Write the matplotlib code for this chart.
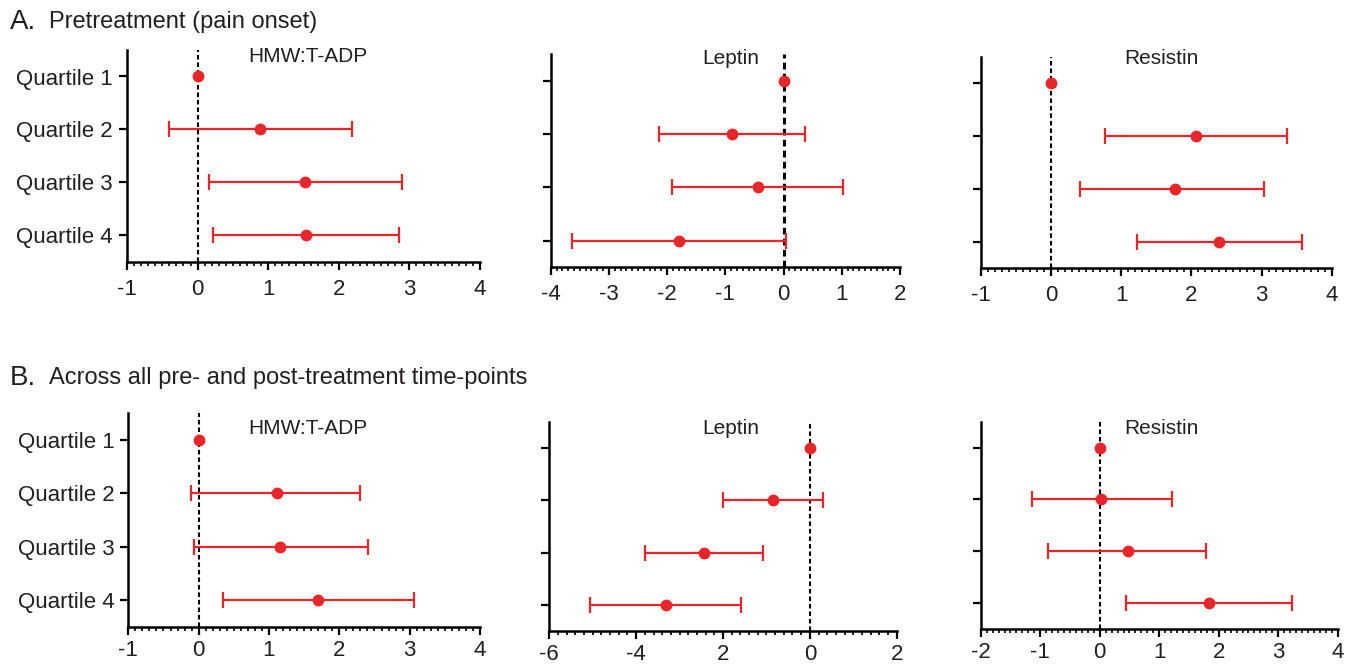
import numpy as np
import matplotlib
matplotlib.use("Agg")
import matplotlib.pyplot as plt
from matplotlib.ticker import MultipleLocator, FixedLocator, FixedFormatter

plt.rcParams['font.family'] = ['Liberation Sans', 'DejaVu Sans']

W, H = 1348, 667
RED = '#E8262A'

quartiles = ["Quartile 1", "Quartile 2", "Quartile 3", "Quartile 4"]

# Panel A (pretreatment)
a_hmw_est = [0.0, 0.88, 1.52, 1.53]
a_hmw_lo = [np.nan, -0.40, 0.16, 0.22]
a_hmw_hi = [np.nan, 2.18, 2.89, 2.85]

a_lep_est = [0.0, -0.89, -0.44, -1.79]
a_lep_lo = [np.nan, -2.14, -1.91, -3.64]
a_lep_hi = [np.nan, 0.37, 1.02, 0.04]

a_res_est = [0.0, 2.07, 1.77, 2.40]
a_res_lo = [np.nan, 0.77, 0.42, 1.23]
a_res_hi = [np.nan, 3.37, 3.04, 3.58]

# Panel B (all time points)
b_hmw_est = [0.0, 1.11, 1.16, 1.70]
b_hmw_lo = [np.nan, -0.11, -0.07, 0.35]
b_hmw_hi = [np.nan, 2.30, 2.41, 3.06]

b_lep_est = [0.0, -0.84, -2.44, -3.32]
b_lep_lo = [np.nan, -1.99, -3.80, -5.07]
b_lep_hi = [np.nan, 0.31, -1.07, -1.58]

b_res_est = [0.0, 0.03, 0.47, 1.84]
b_res_lo = [np.nan, -1.13, -0.87, 0.45]
b_res_hi = [np.nan, 1.21, 1.79, 3.24]

titles = ["HMW:T-ADP", "Leptin", "Resistin"]

a_xticks = [[-1, 0, 1, 2, 3, 4], [-4, -3, -2, -1, 0, 1, 2], [-1, 0, 1, 2, 3, 4]]
a_xlabels = [["-1", "0", "1", "2", "3", "4"], ["-4", "-3", "-2", "-1", "0", "1", "2"],
             ["-1", "0", "1", "2", "3", "4"]]
b_xticks = [[-1, 0, 1, 2, 3, 4], [-6, -4, -2, 0, 2], [-2, -1, 0, 1, 2, 3, 4]]
b_xlabels = [["-1", "0", "1", "2", "3", "4"], ["-6", "-4", "2", "0", "2"],
             ["-2", "-1", "0", "1", "2", "3", "4"]]
minor_steps = [[0.1, 0.1, 0.1], [0.1, 0.2, 0.1]]

# axes pixel boxes: left, right, top, bottom
boxes = [
    [(127, 480, 50, 262), (550.7, 900, 54, 267.3), (980.7, 1331.7, 56.7, 268.3)],
    [(128.3, 480, 413.3, 626.7), (549.3, 896.7, 421.7, 631), (980.7, 1337.7, 421.7, 629)],
]
title_pos = [[(308, 57), (730.5, 59), (1161.7, 58.3)],
             [(308, 428), (730.5, 429), (1161.7, 428)]]
xpads = [6.5, 4.0]

data = [
    [(a_hmw_est, a_hmw_lo, a_hmw_hi), (a_lep_est, a_lep_lo, a_lep_hi), (a_res_est, a_res_lo, a_res_hi)],
    [(b_hmw_est, b_hmw_lo, b_hmw_hi), (b_lep_est, b_lep_lo, b_lep_hi), (b_res_est, b_res_lo, b_res_hi)],
]
xt = [a_xticks, b_xticks]
xl = [a_xlabels, b_xlabels]

fig = plt.figure(figsize=(W / 100, H / 100), dpi=100)

for r in range(2):
    for c in range(3):
        l, rr, t, b = boxes[r][c]
        ax = fig.add_axes([l / W, 1 - b / H, (rr - l) / W, (b - t) / H])
        est, lo, hi = data[r][c]
        est = np.array(est); lo = np.array(lo); hi = np.array(hi)
        ypos = np.arange(1, 5)
        zl = 2.2 if (r == 0 and c == 1) else 1.5
        ax.axvline(0, color='black', lw=zl, linestyle=(0, (2.2, 1.4)), zorder=1)
        m = ~np.isnan(lo)
        ax.errorbar(est[m], ypos[m], xerr=[est[m] - lo[m], hi[m] - est[m]], fmt='none',
                    ecolor=RED, elinewidth=1.6, capsize=5.5, capthick=1.6, zorder=2)
        ax.plot(est, ypos, 'o', color=RED, markersize=7.5, zorder=3)
        ax.set_xlim(xt[r][c][0], xt[r][c][-1])
        ax.set_ylim(4.5, 0.5)
        ax.xaxis.set_major_locator(FixedLocator(xt[r][c]))
        ax.xaxis.set_major_formatter(FixedFormatter(xl[r][c]))
        ax.xaxis.set_minor_locator(MultipleLocator(minor_steps[r][c]))
        ax.set_yticks(ypos)
        if c == 0:
            ax.set_yticklabels(quartiles, fontsize=17.5, color='#231F20')
        else:
            ax.set_yticklabels([])
        for s in ['top', 'right']:
            ax.spines[s].set_visible(False)
        for s in ['left', 'bottom']:
            ax.spines[s].set_linewidth(1.8)
        ax.tick_params(axis='both', which='major', direction='out', length=5.5, width=1.6,
                       labelsize=16, colors='black', labelcolor='#231F20')
        ax.tick_params(axis='x', which='minor', direction='out', length=3, width=1.2)
        ax.tick_params(axis='y', which='major', length=6, pad=4)
        ax.tick_params(axis='x', which='major', pad=xpads[r])
        ax.patch.set_alpha(0)
        tx, ty = title_pos[r][c]
        fig.text(tx / W, 1 - ty / H, titles[c], ha='center', va='center',
                 fontsize=15, color='#231F20')

fig.text(10 / W, 1 - 22 / H, "A.", ha='left', va='center', fontsize=20, color='#231F20')
fig.text(49 / W, 1 - 22 / H, "Pretreatment (pain onset)", ha='left', va='center',
         fontsize=17, color='#231F20')
fig.text(10 / W, 1 - 378 / H, "B.", ha='left', va='center', fontsize=20, color='#231F20')
fig.text(49 / W, 1 - 378 / H, "Across all pre- and post-treatment time-points", ha='left',
         va='center', fontsize=17, color='#231F20')

fig.savefig("out.png", dpi=100, facecolor='white')
